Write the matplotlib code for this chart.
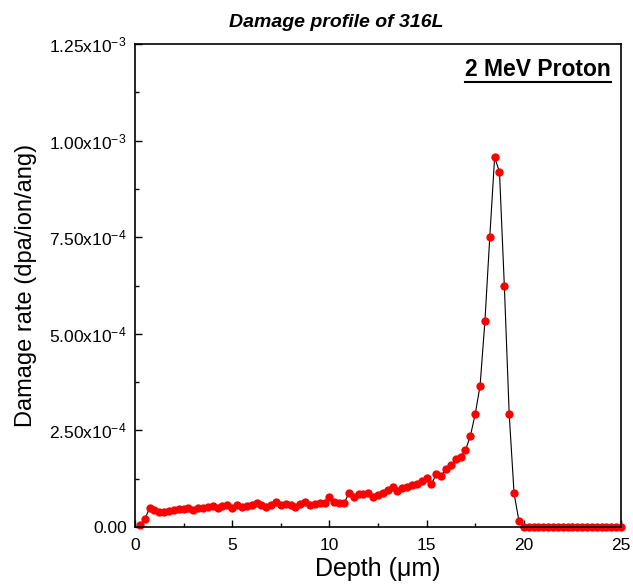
import matplotlib
matplotlib.use("Agg")
import matplotlib.pyplot as plt
import numpy as np
from matplotlib.ticker import FuncFormatter, MultipleLocator

plt.rcParams["font.family"] = ["Liberation Sans", "DejaVu Sans"]
plt.rcParams["mathtext.fontset"] = "custom"
plt.rcParams["mathtext.rm"] = "Liberation Sans"
plt.rcParams["mathtext.default"] = "regular"

# depth (um) and damage rate (x1e-3 dpa/ion/ang)
depth = [0.25, 0.5, 0.75, 1.0, 1.25, 1.5, 1.75, 2.0, 2.25, 2.5,
         2.75, 3.0, 3.25, 3.5, 3.75, 4.0, 4.25, 4.5, 4.75, 5.0,
         5.25, 5.5, 5.75, 6.0, 6.25, 6.5, 6.75, 7.0, 7.25, 7.5,
         7.75, 8.0, 8.25, 8.5, 8.75, 9.0, 9.25, 9.5, 9.75, 10.0,
         10.25, 10.5, 10.75, 11.0, 11.25, 11.5, 11.75, 12.0, 12.25, 12.5,
         12.75, 13.0, 13.25, 13.5, 13.75, 14.0, 14.25, 14.5, 14.75, 15.0,
         15.25, 15.5, 15.75, 16.0, 16.25, 16.5, 16.75, 17.0, 17.25, 17.5,
         17.75, 18.0, 18.25, 18.5, 18.75, 19.0, 19.25, 19.5, 19.75, 20.0,
         20.25, 20.5, 20.75, 21.0, 21.25, 21.5, 21.75, 22.0, 22.25, 22.5,
         22.75, 23.0, 23.25, 23.5, 23.75, 24.0, 24.25, 24.5, 24.75, 25.0]
damage = [0.004, 0.021, 0.048, 0.044, 0.038, 0.040, 0.042, 0.044, 0.046, 0.047,
          0.048, 0.045, 0.048, 0.050, 0.052, 0.055, 0.048, 0.054, 0.057, 0.050,
          0.057, 0.052, 0.055, 0.057, 0.061, 0.057, 0.052, 0.058, 0.065, 0.057,
          0.059, 0.057, 0.052, 0.060, 0.065, 0.057, 0.060, 0.061, 0.063, 0.078,
          0.065, 0.063, 0.061, 0.087, 0.078, 0.085, 0.086, 0.089, 0.078, 0.084,
          0.088, 0.096, 0.103, 0.094, 0.100, 0.104, 0.109, 0.112, 0.118, 0.126,
          0.111, 0.137, 0.132, 0.151, 0.160, 0.175, 0.182, 0.199, 0.235, 0.292,
          0.365, 0.532, 0.750, 0.957, 0.919, 0.624, 0.292, 0.087, 0.016, 0.0,
          0.0, 0.0, 0.0, 0.0, 0.0, 0.0, 0.0, 0.0, 0.0, 0.0,
          0.0, 0.0, 0.0, 0.0, 0.0, 0.0, 0.0, 0.0, 0.0, 0.0]

depth = np.array(depth)
damage = np.array(damage) * 1e-3


def sci_fmt(v, pos):
    if v == 0:
        return "0.00"
    exp = int(np.floor(np.log10(abs(v)) + 1e-9))
    mant = v / 10 ** exp
    return f"{mant:.2f}x10$^{{{exp}}}$"


fig = plt.figure(figsize=(6.33, 5.87), dpi=100)
ax = fig.add_axes([0.2133, 0.1022, 0.7677, 0.8228])

ax.plot(depth, damage, color="black", lw=0.8, zorder=1)
ax.plot(depth, damage, "o", color="red", ms=6, mec="none", zorder=2, clip_on=False)

ax.set_xlim(0, 25)
ax.set_ylim(0, 1.25e-3)
ax.xaxis.set_major_locator(MultipleLocator(5))
ax.xaxis.set_minor_locator(MultipleLocator(2.5))
ax.yaxis.set_major_locator(MultipleLocator(2.5e-4))
ax.yaxis.set_minor_locator(MultipleLocator(1.25e-4))
ax.yaxis.set_major_formatter(FuncFormatter(sci_fmt))
ax.tick_params(which="both", direction="in", labelsize=12.5)
ax.tick_params(which="major", length=5, width=1)
ax.tick_params(which="minor", length=3, width=1)
ax.tick_params(axis="x", pad=8)
ax.tick_params(axis="y", pad=6)
for s in ax.spines.values():
    s.set_linewidth(1.2)

ax.set_xlabel("Depth (μm)", fontsize=18, labelpad=3)
ax.set_ylabel("Damage rate (dpa/ion/ang)", fontsize=17, labelpad=9)
fig.text(0.531, 0.962, "Damage profile of 316L", fontsize=14, fontweight="bold",
         style="italic", ha="center", va="center")
lbl = ax.text(0.979, 0.972, "2 MeV Proton", transform=ax.transAxes,
              ha="right", va="top", fontsize=16.5, fontweight="bold")

# underline the label
fig.canvas.draw()
bb = lbl.get_window_extent().transformed(ax.transAxes.inverted())
ax.plot([bb.x0, bb.x1], [bb.y0 - 0.003, bb.y0 - 0.003], color="black", lw=1.5,
        transform=ax.transAxes, clip_on=False)

fig.savefig("out.png", dpi=100)
